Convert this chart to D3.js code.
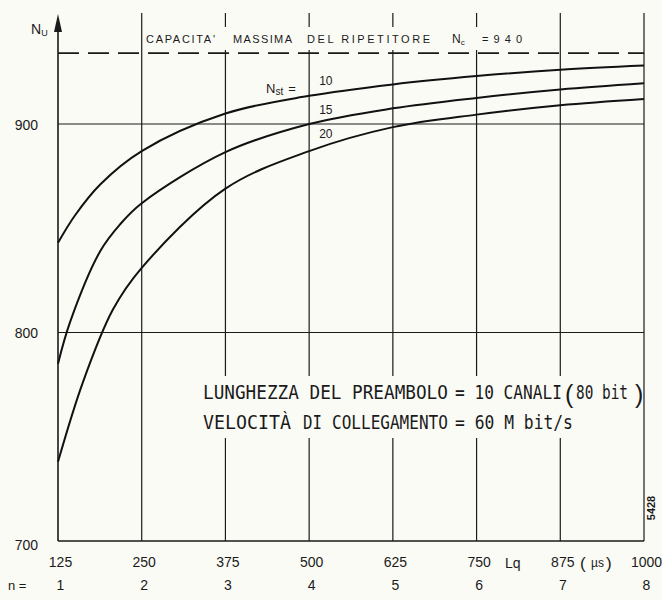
<!DOCTYPE html>
<html>
<head>
<meta charset="utf-8">
<script src="https://cdn.jsdelivr.net/npm/d3@7"></script>
<style>
    body { margin: 0; background: #fbfbf6; }
    svg { display: block; }
    text { font-family: "Liberation Sans", "DejaVu Sans", sans-serif; fill: #1a1a1a; }
    text.note { font-family: "DejaVu Sans Mono", "Liberation Mono", monospace; }
</style>
</head>
<body>
<div id="chart"></div>
<script>
// Axis ticks
const lqTicks = [125, 250, 375, 500, 625, 750, 875, 1000];
const nTicks = [1, 2, 3, 4, 5, 6, 7, 8];
const nuTicks = [700, 800, 900];
const capacityLine = 934;   // dashed line as drawn (label says Nc = 940)

// Curves: Lq (µs) -> Nu
const lq10 = [125, 150, 188, 250, 375, 500, 625, 750, 875, 1000];
const nu10 = [843, 856, 871, 887, 905, 913.5, 919, 923, 926, 928];
const lq15 = [125, 143, 188, 218, 250, 375, 500, 625, 750, 875, 1000];
const nu15 = [785, 805, 839, 852, 862, 886.5, 900, 907.5, 912.5, 916.5, 919.5];
const lq20 = [125, 162, 207, 250, 375, 500, 625, 750, 875, 1000];
const nu20 = [738, 776, 811, 831, 869, 887, 898.5, 904.5, 909, 912];
const nstValues = ["10", "15", "20"];

const width = 662, height = 600;

const svg = d3.select("#chart").append("svg")
    .attr("width", width)
    .attr("height", height);

const x = d3.scaleLinear().domain([125, 1000]).range([58, 644]);
const y = d3.scaleLinear().domain([700, 900]).range([541, 124]);

const ink = "#1a1a1a";
const topY = 13;

// vertical grid lines, with gaps where the lettering sits
const gaps = {
    250: [],
    375: [[27, 50], [376, 438]],
    500: [[27, 50], [376, 438]],
    625: [[27, 50], [376, 438]],
    750: [[27, 50], [376, 438]],
    875: [[376, 438]],
    1000: []
};
const grid = svg.append("g").attr("stroke", ink).attr("stroke-width", 1.2);
lqTicks.slice(1).forEach(t => {
    let start = topY;
    const segs = [];
    gaps[t].forEach(([a, b]) => { segs.push([start, a]); start = b; });
    segs.push([start, y(700)]);
    segs.forEach(([a, b]) => {
        grid.append("line")
            .attr("x1", x(t)).attr("x2", x(t))
            .attr("y1", a).attr("y2", b);
    });
});

// horizontal grid lines
grid.selectAll("line.h")
    .data(nuTicks.slice(1))
    .join("line")
    .attr("class", "h")
    .attr("x1", x(125)).attr("x2", x(1000))
    .attr("y1", d => y(d)).attr("y2", d => y(d));

// dashed capacity line
svg.append("line")
    .attr("x1", x(125)).attr("x2", x(1000))
    .attr("y1", y(capacityLine)).attr("y2", y(capacityLine))
    .attr("stroke", ink)
    .attr("stroke-width", 1.7)
    .attr("stroke-dasharray", "21,9");

// axes lines
svg.append("line")
    .attr("x1", x(125)).attr("x2", x(125))
    .attr("y1", 22).attr("y2", y(700))
    .attr("stroke", ink).attr("stroke-width", 1.6);
svg.append("line")
    .attr("x1", x(125)).attr("x2", x(1000))
    .attr("y1", y(700)).attr("y2", y(700))
    .attr("stroke", ink).attr("stroke-width", 1.6);
svg.append("path")
    .attr("d", `M${x(125)},14 L${x(125) - 4},32 L${x(125) + 4},32 Z`)
    .attr("fill", ink);

// curves
const line = d3.line()
    .curve(d3.curveCatmullRom.alpha(0.5))
    .x(d => x(d[0]))
    .y(d => y(d[1]));

const series = [
    d3.zip(lq10, nu10),
    d3.zip(lq15, nu15),
    d3.zip(lq20, nu20)
];

svg.append("g")
    .selectAll("path")
    .data(series)
    .join("path")
    .attr("d", line)
    .attr("fill", "none")
    .attr("stroke", "#111")
    .attr("stroke-width", 2);

// y axis labels
const yAxis = svg.append("g")
    .attr("transform", `translate(${x(125)},0)`)
    .call(d3.axisLeft(y).tickValues(nuTicks).tickSize(0).tickPadding(20));
yAxis.select(".domain").remove();
yAxis.selectAll("text")
    .style("font-size", "14px")
    .attr("dy", (d, i) => i === 0 ? "0.62em" : "0.36em");

// x axis labels (Lq)
const xAxis = svg.append("g")
    .attr("transform", `translate(2,${y(700)})`)
    .call(d3.axisBottom(x).tickValues(lqTicks).tickSize(0).tickPadding(16)
        .tickFormat(d3.format("d")));
xAxis.select(".domain").remove();
xAxis.selectAll("text").style("font-size", "14px");

// n row
const nAxis = svg.append("g")
    .attr("transform", `translate(2,${y(700)})`)
    .call(d3.axisBottom(x).tickValues(lqTicks).tickSize(0).tickPadding(39)
        .tickFormat((d, i) => nTicks[i]));
nAxis.select(".domain").remove();
nAxis.selectAll("text").style("font-size", "14px");

svg.append("text").attr("x", 8).attr("y", 590)
    .style("font-size", "13px").text("n =");
svg.append("text").attr("x", 505).attr("y", 568)
    .style("font-size", "14px").text("Lq");
svg.append("text").attr("x", 580).attr("y", 569)
    .style("font-size", "17px").text("(");
svg.append("text").attr("x", 591).attr("y", 567)
    .style("font-size", "12px").text("µs");
svg.append("text").attr("x", 606).attr("y", 569)
    .style("font-size", "17px").text(")");

// Nu axis title
const nu = svg.append("text").attr("x", 31).attr("y", 34).style("font-size", "14px");
nu.append("tspan").text("N");
nu.append("tspan").attr("dy", 2).style("font-size", "9px").text("U");

// capacity label
const capY = 43;
const capLabel = [
    ["CAPACITA'", 146, 69],
    ["MASSIMA", 233, 59],
    ["DEL RIPETITORE", 307, 123],
    ["=940", 482, 40]
];
capLabel.forEach(([s, px, len]) => {
    svg.append("text").attr("x", px).attr("y", capY)
        .style("font-size", "11px")
        .attr("textLength", len).attr("lengthAdjust", "spacing")
        .text(s);
});
const nc = svg.append("text").attr("x", 452).attr("y", capY).style("font-size", "12px");
nc.append("tspan").text("N");
nc.append("tspan").attr("dy", 2).style("font-size", "8px").text("c");

// Nst labels
const nst = svg.append("text").attr("x", 266).attr("y", 93).style("font-size", "13px");
nst.append("tspan").text("N");
nst.append("tspan").attr("dy", 2).style("font-size", "10px").text("st");
nst.append("tspan").attr("dy", -2).attr("dx", 5).text("=");

svg.selectAll("text.nst")
    .data(nstValues)
    .join("text")
    .attr("class", "nst")
    .attr("x", x(500) + 10)
    .attr("y", (d, i) => [85, 114, 138][i])
    .style("font-size", "12px")
    .text(d => d);

// notes: each piece squeezed horizontally to the width it has in the picture
const notes = [
    ["LUNGHEZZA DEL PREAMBOLO", 203, 399, 245],
    ["= 10 CANALI", 455, 399, 107],
    ["80 bit", 576, 399, 52],
    ["VELOCITÀ", 203, 429, 88],
    ["DI", 303, 429, 19],
    ["COLLEGAMENTO", 332, 429, 116],
    ["= 60 M bit/s", 455, 429, 118]
];
notes.forEach(([s, px, py, len]) => {
    const t = svg.append("text")
        .attr("class", "note")
        .style("font-size", "20px")
        .text(s);
    const w = t.node().getComputedTextLength();
    t.attr("transform", `translate(${px},${py}) scale(${len / w},1)`);
});
svg.append("text").attr("x", 565).attr("y", 403).style("font-size", "25px").text("(");
svg.append("text").attr("x", 635).attr("y", 403).style("font-size", "25px").text(")");

// figure number
svg.append("text")
    .attr("transform", "translate(655,508) rotate(-90)")
    .attr("text-anchor", "middle")
    .style("font-size", "11px")
    .style("font-weight", "bold")
    .text("5428");
</script>
</body>
</html>
